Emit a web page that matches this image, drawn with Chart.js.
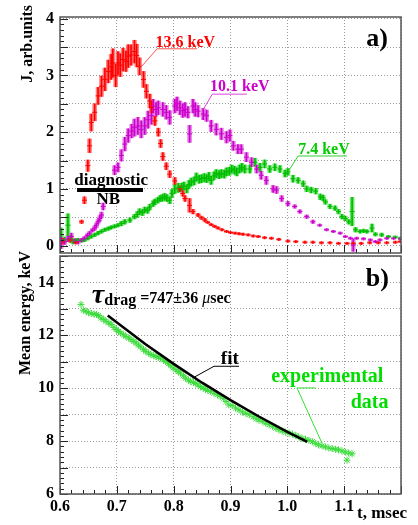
<!DOCTYPE html>
<html>
<head>
<meta charset="utf-8">
<script src="https://cdn.jsdelivr.net/npm/chart.js@4.4.0/dist/chart.umd.min.js"></script>
<style>
body { margin: 0; background: #fff; }
#wrap { position: relative; width: 418px; height: 525px; }
canvas { position: absolute; left: 0; }
#c1 { top: 0; }
#c2 { top: 245px; }
</style>
</head>
<body>
<div id="wrap">
  <canvas id="c1" width="418" height="258"></canvas>
  <canvas id="c2" width="418" height="280"></canvas>
</div>
<script>
// ---- panel a) : J(t) for three energies ----
var tRed = [0.605,0.618,0.628,0.638,0.643,0.649,0.652,0.655,0.661,0.667,0.673,0.679,0.685,0.690,0.693,0.698,0.702,0.706,0.711,0.716,0.720,0.725,0.731,0.735,0.740,0.747,0.752,0.758,0.761,0.767,0.773,0.777,0.781,0.787,0.793,0.802,0.811,0.816,0.820,0.828,0.834,0.843,0.849,0.855,0.860,0.866,0.872,0.878,0.885,0.893,0.900,0.908,0.915,0.922,0.931,0.940,0.949,0.960,0.972,0.985,1.001,1.015,1.031,1.045,1.060,1.075,1.090,1.105,1.116,1.130,1.145,1.160,1.175,1.190,1.199];
var jRed = [0.08,0.10,0.06,0.42,0.80,1.41,1.76,2.17,2.35,2.64,2.81,2.93,3.07,3.15,3.22,3.00,3.22,3.18,3.28,3.25,3.34,3.36,3.42,3.35,3.16,2.93,2.72,2.55,2.44,2.20,2.00,1.80,1.57,1.40,1.26,1.14,1.00,0.92,0.83,0.71,0.60,0.54,0.49,0.45,0.41,0.37,0.34,0.31,0.28,0.25,0.23,0.22,0.21,0.20,0.19,0.17,0.16,0.14,0.13,0.11,0.08,0.07,0.06,0.06,0.05,0.05,0.04,0.04,0.04,0.04,0.05,0.05,0.05,0.06,0.07];
var eRed = [0.05,0.04,0.03,0.03,0.06,0.10,0.12,0.15,0.15,0.15,0.18,0.20,0.20,0.22,0.25,0.20,0.20,0.20,0.20,0.18,0.20,0.18,0.20,0.20,0.15,0.14,0.12,0.12,0.10,0.08,0.07,0.07,0.07,0.06,0.06,0.06,0.05,0.05,0.05,0.12,0.04,0.03,0.03,0.03,0.02,0.02,0.02,0.02,0.02,0.02,0.02,0.02,0.02,0.02,0.02,0.02,0.02,0.02,0.02,0.02,0.02,0.02,0.02,0.02,0.02,0.02,0.02,0.02,0.02,0.02,0.02,0.02,0.02,0.02,0.02];

var tMag = [0.602,0.608,0.614,0.620,0.626,0.632,0.638,0.643,0.648,0.652,0.657,0.661,0.664,0.667,0.670,0.673,0.676,0.696,0.702,0.708,0.714,0.720,0.726,0.731,0.737,0.743,0.749,0.755,0.761,0.764,0.769,0.773,0.781,0.787,0.793,0.802,0.806,0.811,0.816,0.820,0.825,0.828,0.834,0.838,0.843,0.852,0.858,0.866,0.875,0.884,0.893,0.899,0.905,0.913,0.919,0.928,0.937,0.946,0.954,0.963,0.975,0.981,0.990,1.001,1.013,1.022,1.034,1.045,1.057,1.069,1.081,1.093,1.102,1.111,1.116,1.122,1.134,1.146,1.155,1.163,1.175,1.187,1.199];
var jMag = [0.05,0.07,0.12,0.16,0.08,0.07,0.10,0.13,0.18,0.22,0.27,0.31,0.36,0.42,0.48,0.54,0.69,1.33,1.38,1.59,1.79,1.94,2.02,2.08,2.11,2.05,2.11,2.22,2.29,2.46,2.40,2.43,2.40,2.35,2.26,2.46,2.50,2.43,2.38,2.40,2.35,1.97,2.46,2.40,2.37,2.32,2.29,2.11,2.05,1.97,1.91,1.94,1.76,1.70,1.70,1.56,1.47,1.35,1.24,1.15,1.00,0.98,0.83,0.74,0.69,0.60,0.51,0.42,0.36,0.28,0.25,0.22,0.16,0.13,0.01,0.13,0.12,0.10,0.07,0.10,0.13,0.13,0.12];
var eMag = [0.10,0.05,0.05,0.06,0.04,0.04,0.03,0.03,0.03,0.03,0.03,0.04,0.04,0.04,0.05,0.05,0.06,0.08,0.08,0.10,0.12,0.12,0.12,0.15,0.15,0.15,0.15,0.15,0.15,0.12,0.12,0.12,0.12,0.12,0.12,0.12,0.12,0.12,0.12,0.12,0.10,0.15,0.12,0.12,0.10,0.10,0.10,0.10,0.10,0.10,0.10,0.10,0.08,0.08,0.08,0.08,0.08,0.07,0.07,0.07,0.06,0.06,0.05,0.04,0.03,0.03,0.03,0.03,0.02,0.02,0.02,0.02,0.02,0.02,0.11,0.02,0.02,0.02,0.02,0.02,0.02,0.02,0.02];

var tGrn = [0.602,0.608,0.614,0.619,0.623,0.628,0.632,0.638,0.643,0.649,0.655,0.661,0.667,0.673,0.679,0.685,0.690,0.696,0.702,0.708,0.714,0.723,0.731,0.736,0.740,0.745,0.749,0.754,0.758,0.764,0.767,0.772,0.776,0.780,0.784,0.788,0.793,0.797,0.802,0.808,0.814,0.818,0.823,0.827,0.831,0.836,0.840,0.845,0.849,0.854,0.858,0.862,0.866,0.871,0.875,0.880,0.884,0.889,0.893,0.898,0.902,0.907,0.911,0.916,0.920,0.925,0.934,0.943,0.952,0.960,0.969,0.978,0.987,0.996,1.001,1.010,1.019,1.028,1.034,1.042,1.050,1.058,1.063,1.067,1.075,1.084,1.090,1.096,1.102,1.108,1.114,1.120,1.128,1.134,1.140,1.149,1.155,1.166,1.178,1.190,1.199];
var jGrn = [0.19,0.10,0.36,0.12,0.07,0.09,0.10,0.09,0.10,0.13,0.16,0.19,0.22,0.25,0.28,0.30,0.32,0.34,0.36,0.39,0.42,0.45,0.51,0.55,0.60,0.58,0.63,0.62,0.68,0.74,0.77,0.80,0.83,0.84,0.86,0.84,0.80,0.92,1.00,1.02,1.03,1.05,1.00,1.08,1.12,1.14,1.21,1.17,1.18,1.20,1.18,1.22,1.15,1.23,1.27,1.25,1.27,1.26,1.30,1.31,1.35,1.33,1.30,1.35,1.38,1.35,1.35,1.47,1.38,1.44,1.35,1.38,1.35,1.27,1.30,1.18,1.15,1.09,1.00,0.98,0.96,0.86,0.84,0.77,0.69,0.66,0.60,0.51,0.48,0.42,0.60,0.28,0.25,0.26,0.25,0.31,0.20,0.19,0.16,0.15,0.13];
var eGrn = [0.12,0.05,0.20,0.06,0.04,0.03,0.03,0.03,0.03,0.03,0.03,0.03,0.03,0.03,0.03,0.03,0.03,0.03,0.03,0.04,0.04,0.04,0.04,0.05,0.05,0.05,0.05,0.05,0.05,0.05,0.05,0.05,0.05,0.06,0.06,0.06,0.06,0.07,0.08,0.08,0.07,0.07,0.07,0.07,0.07,0.07,0.07,0.07,0.07,0.07,0.07,0.07,0.07,0.07,0.07,0.07,0.07,0.07,0.07,0.07,0.07,0.07,0.07,0.07,0.07,0.07,0.07,0.07,0.07,0.07,0.06,0.06,0.06,0.06,0.06,0.06,0.05,0.05,0.05,0.05,0.05,0.05,0.05,0.04,0.04,0.04,0.04,0.04,0.04,0.04,0.25,0.04,0.03,0.03,0.03,0.07,0.03,0.03,0.02,0.02,0.02];

// ---- panel b) : mean energy and fit ----
var tExp = [0.637,0.641,0.646,0.650,0.655,0.660,0.664,0.668,0.672,0.677,0.681,0.686,0.690,0.695,0.699,0.703,0.707,0.712,0.716,0.721,0.725,0.730,0.734,0.738,0.742,0.747,0.751,0.756,0.760,0.765,0.769,0.773,0.777,0.782,0.786,0.791,0.795,0.799,0.804,0.808,0.812,0.817,0.821,0.826,0.830,0.835,0.839,0.843,0.847,0.852,0.856,0.860,0.865,0.871,0.877,0.882,0.888,0.892,0.897,0.903,0.909,0.915,0.921,0.927,0.933,0.940,0.945,0.950,0.956,0.962,0.968,0.974,0.980,0.985,0.991,0.997,1.003,1.009,1.015,1.020,1.026,1.032,1.038,1.044,1.050,1.055,1.061,1.067,1.073,1.079,1.085,1.090,1.096,1.102,1.108,1.105,1.114];
var mExp = [13.17,12.95,12.91,12.85,12.83,12.80,12.79,12.75,12.66,12.60,12.53,12.47,12.41,12.30,12.22,12.15,12.09,12.02,11.96,11.90,11.84,11.77,11.71,11.63,11.56,11.47,11.39,11.33,11.27,11.23,11.20,11.17,11.14,11.07,11.01,10.93,10.85,10.77,10.70,10.63,10.57,10.47,10.38,10.31,10.25,10.22,10.19,10.12,10.06,10.01,9.96,9.92,9.88,9.81,9.75,9.69,9.62,9.50,9.37,9.35,9.25,9.18,9.10,9.05,9.00,8.92,8.85,8.80,8.75,8.68,8.62,8.56,8.49,8.43,8.38,8.34,8.30,8.26,8.21,8.16,8.10,8.07,8.03,7.98,7.91,7.86,7.82,7.78,7.74,7.72,7.69,7.67,7.63,7.59,7.55,7.28,7.52];
var tFit = [0.684,0.750,0.800,0.850,0.900,0.950,1.000,1.035];
var mFit = [12.75,11.67,10.92,10.21,9.55,8.93,8.35,7.97];

// tick labels
var xLabels = [0.6,0.7,0.8,0.9,1.0,1.1];
var yLabelsA = [0,1,2,3,4];
var yLabelsB = [6,8,10,12,14];

var SERIF = '"Liberation Serif", "Times New Roman", serif';
function f(style, px) { return style + ' ' + px + 'px ' + SERIF; }

function errSeries(t, j, e, dark, light) {
  var bars = t.map(function(x, i) { return {x: x, y: [j[i] - e[i], j[i] + e[i]]}; });
  return [
    {type: 'bar', data: bars, backgroundColor: light, barThickness: 4, grouped: false, order: 3},
    {type: 'bar', data: bars, backgroundColor: dark, barThickness: 1, grouped: false, order: 2},
    {type: 'scatter', data: t.map(function(x, i) { return {x: x, y: j[i]}; }),
     pointStyle: 'line', radius: 2.5, borderColor: dark, borderWidth: 1, order: 1}
  ];
}

function onStep(v, s) { return Math.abs(v / s - Math.round(v / s)) < 1e-6; }
function hasVal(arr, v) { return arr.some(function(a) { return Math.abs(a - v) < 1e-6; }); }

// ticks every `step` between min and max (chart.js drops ticks next to the bounds otherwise)
function stepTicks(step) {
  return function(s) {
    var out = [];
    for (var k = Math.ceil(s.min / step - 1e-6); k * step <= s.max + 1e-9; k++) {
      out.push({value: Math.round(k * step * 1000) / 1000});
    }
    s.ticks = out;
  };
}

// frame + inward ticks (ROOT style)
function frame(xMinor, xMajor, yMinor, yMajor) {
  return {
    id: 'frame',
    afterDraw: function(chart) {
      var ctx = chart.ctx, a = chart.chartArea, xs = chart.scales.x, ys = chart.scales.y;
      ctx.save();
      ctx.strokeStyle = '#222';
      ctx.lineWidth = 1;
      ctx.beginPath();
      for (var v = xs.min; v <= xs.max + 1e-9; v += xMinor) {
        var px = Math.round(xs.getPixelForValue(v)) + 0.5;
        ctx.moveTo(px, a.bottom);
        ctx.lineTo(px, a.bottom - (onStep(v - xs.min, xMajor) ? 8 : 4));
      }
      for (var w = Math.ceil(ys.min / yMinor) * yMinor; w <= ys.max + 1e-9; w += yMinor) {
        var py = Math.round(ys.getPixelForValue(w)) + 0.5;
        ctx.moveTo(a.left, py);
        ctx.lineTo(a.left + (onStep(w, yMajor) ? 8 : 4), py);
      }
      ctx.stroke();
      ctx.strokeStyle = '#555';
      ctx.lineWidth = 1.5;
      ctx.strokeRect(a.left, a.top, a.right - a.left, a.bottom - a.top);
      ctx.restore();
    }
  };
}

// text labels and leader lines, placed in data coordinates (or pixels for axis titles)
function notes(items) {
  return {
    id: 'notes',
    afterDraw: function(chart) {
      var ctx = chart.ctx, xs = chart.scales.x, ys = chart.scales.y;
      var P = function(p) { return [xs.getPixelForValue(p[0]), ys.getPixelForValue(p[1])]; };
      items.forEach(function(n) {
        ctx.save();
        ctx.fillStyle = ctx.strokeStyle = n.color || '#000';
        if (n.line) {
          ctx.lineWidth = n.width || 1;
          ctx.beginPath();
          n.line.map(P).forEach(function(q, i) { if (i) ctx.lineTo(q[0], q[1]); else ctx.moveTo(q[0], q[1]); });
          ctx.stroke();
        } else {
          var q = n.px || P(n.at);
          ctx.translate(q[0], q[1]);
          if (n.rot) ctx.rotate(n.rot);
          ctx.textBaseline = n.base || 'alphabetic';
          var parts = n.parts || [[n.text, n.font, 0]];
          var tw = 0;
          parts.forEach(function(p) { ctx.font = p[1]; tw += ctx.measureText(p[0]).width; });
          var x0 = n.align === 'right' ? -tw : (n.align === 'center' ? -tw / 2 : 0);
          parts.forEach(function(p) {
            ctx.font = p[1];
            ctx.fillText(p[0], x0, p[2] || 0);
            x0 += ctx.measureText(p[0]).width;
          });
        }
        ctx.restore();
      });
    }
  };
}

function xScale(showLabels, h) {
  return {
    type: 'linear', min: 0.6, max: 1.2, offset: false,
    afterFit: function(s) { s.height = h; s.paddingLeft = 0; s.paddingRight = 0; },
    afterBuildTicks: stepTicks(0.1),
    ticks: {
      display: showLabels, padding: 3, color: '#000', font: {family: SERIF, size: 16, weight: 'bold'},
      maxRotation: 0, autoSkip: false,
      callback: function(v) { return hasVal(xLabels, v) ? v.toFixed(1) : ''; }
    },
    grid: {color: '#9a9a9a', lineWidth: 1, drawTicks: false, offset: false},
    border: {display: false, dash: [1, 2]}
  };
}

function yScale(min, max, step, labels) {
  return {
    type: 'linear', min: min, max: max,
    // fixed axis width, and no extra room asked for the end labels
    afterFit: function(s) { s.width = 60; s.paddingTop = 0; s.paddingBottom = 0; },
    afterBuildTicks: stepTicks(step),
    ticks: {
      padding: 6, color: '#000', font: {family: SERIF, size: 16, weight: 'bold'}, autoSkip: false,
      callback: function(v) { return hasVal(labels, v) ? String(v) : ''; }
    },
    grid: {color: '#9a9a9a', lineWidth: 1, drawTicks: false},
    border: {display: false, dash: [1, 2]}
  };
}

var common = {
  responsive: false, animation: false,
  plugins: {legend: {display: false}, tooltip: {enabled: false}}
};

var dsA = [].concat(
  errSeries(tRed, jRed, eRed, '#ff0000', 'rgba(255,90,90,0.75)'),
  errSeries(tMag, jMag, eMag, '#cc00cc', 'rgba(220,90,220,0.75)'),
  errSeries(tGrn, jGrn, eGrn, '#00bb00', 'rgba(60,220,60,0.75)')
);

new Chart(document.getElementById('c1'), {
  type: 'scatter',
  data: {datasets: dsA},
  options: Object.assign({}, common, {
    layout: {padding: {left: 0, right: 17, top: 17, bottom: 0}},
    scales: {x: xScale(false, 3), y: yScale(-0.13, 4.03, 0.5, yLabelsA)}
  }),
  plugins: [frame(0.02, 0.1, 0.1, 0.5), notes([
    {line: [[0.741, 3.13], [0.771, 3.47], [0.841, 3.47]], color: '#ff5050'},
    {at: [0.768, 3.51], text: '13.6 keV', font: f('bold', 16), color: '#ff0000'},
    {line: [[0.852, 2.40], [0.868, 2.67], [0.929, 2.67]], color: '#dd44dd'},
    {at: [0.864, 2.72], text: '10.1 keV', font: f('bold', 16), color: '#cc00cc'},
    {line: [[1.001, 1.30], [1.019, 1.58], [1.105, 1.58]], color: '#33cc33'},
    {at: [1.019, 1.62], text: '7.4 keV', font: f('bold', 16), color: '#00cc00'},
    {at: [1.139, 3.52], text: 'a)', font: f('bold', 26)},
    {at: [0.69, 1.07], text: 'diagnostic', font: f('bold', 17), align: 'center'},
    {line: [[0.63, 0.98], [0.746, 0.98]], width: 4},
    {at: [0.685, 0.74], text: 'NB', font: f('bold', 17), align: 'center'},
    {px: [28, 5], text: 'J, arb.units', font: f('bold', 16), rot: -Math.PI / 2, align: 'right', base: 'middle'}
  ])]
});

new Chart(document.getElementById('c2'), {
  type: 'scatter',
  data: {datasets: [
    {type: 'scatter', data: tFit.map(function(x, i) { return {x: x, y: mFit[i]}; }),
     showLine: true, borderColor: '#000', borderWidth: 2.5, pointRadius: 0, order: 1},
    {type: 'scatter', data: tExp.map(function(x, i) { return {x: x, y: mExp[i]}; }),
     pointStyle: 'star', radius: 3.5, borderColor: '#3cdc3c', borderWidth: 1, order: 2}
  ]},
  options: Object.assign({}, common, {
    layout: {padding: {left: 0, right: 17, top: 11, bottom: 0}},
    scales: {x: xScale(true, 31), y: yScale(6, 15, 1, yLabelsB)}
  }),
  plugins: [frame(0.02, 0.1, 0.2, 1), notes([
    {at: [0.656, 13.24], parts: [
      ['\u03c4', f('italic bold', 28), 0],
      ['drag', f('bold', 16), 2],
      [' =747\u00b136 ', f('bold', 16), 0],
      ['\u03bc', f('italic', 16), 0],
      ['sec', f('bold', 16), 0]
    ]},
    {line: [[0.833, 10.38], [0.871, 10.83], [0.915, 10.83]]},
    {at: [0.883, 10.92], text: 'fit', font: f('bold', 19)},
    {line: [[1.05, 10.01], [1.017, 10.01], [1.061, 7.92]], color: '#33dd33'},
    {at: [1.169, 10.24], text: 'experimental', font: f('bold', 20), color: '#00dd00', align: 'right'},
    {at: [1.178, 9.25], text: 'data', font: f('bold', 20), color: '#00dd00', align: 'right'},
    {at: [1.138, 13.85], text: 'b)', font: f('bold', 26)},
    {px: [407, 273], text: 't, msec', font: f('bold', 17), align: 'right'},
    {px: [26, 6], text: 'Mean energy, keV', font: f('bold', 16), rot: -Math.PI / 2, align: 'right', base: 'middle'}
  ])]
});
</script>
</body>
</html>
